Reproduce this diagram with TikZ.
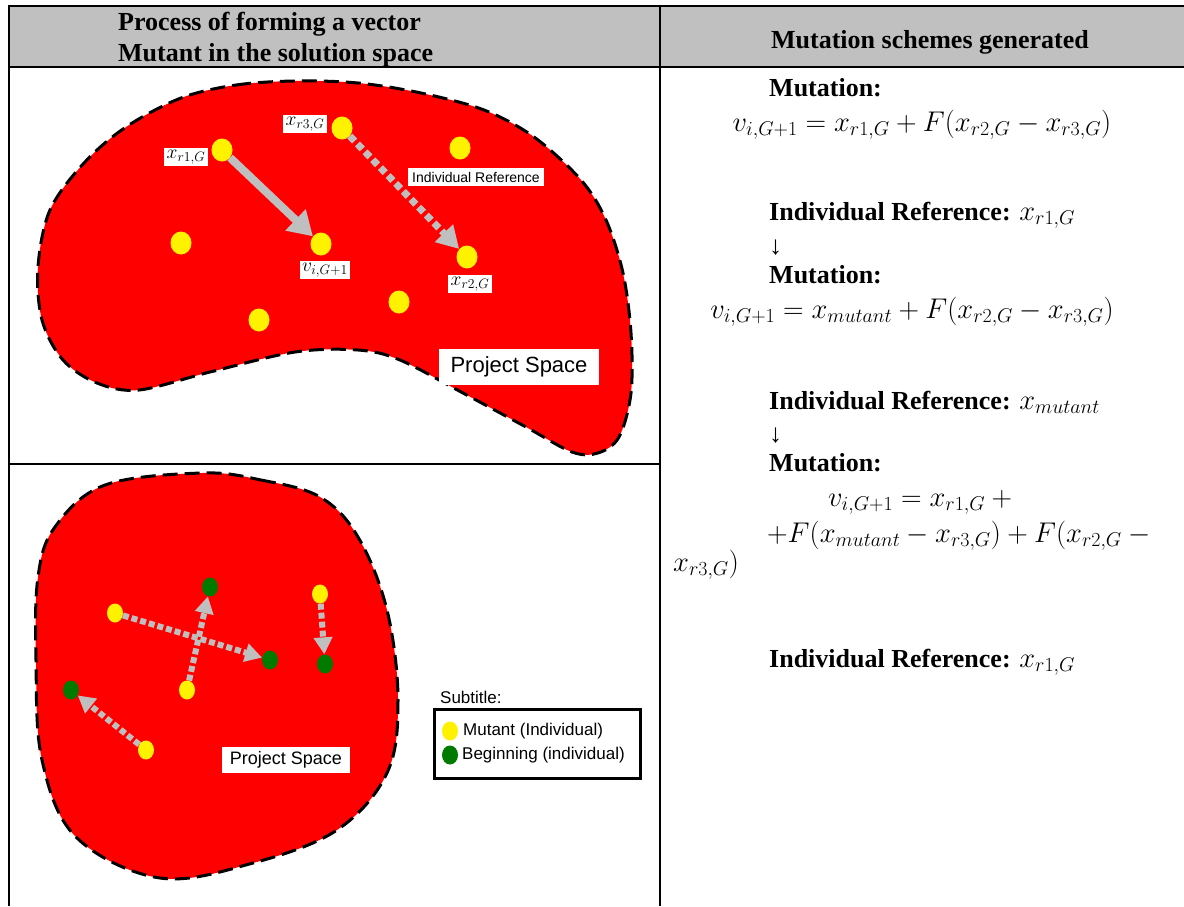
\RequirePackage{fix-cm}
\documentclass[tikz,border=0pt]{standalone}
\usepackage{fontspec}
\setmainfont{Liberation Serif}
\setsansfont{Liberation Sans}
\usetikzlibrary{arrows.meta,shapes.geometric}
\definecolor{hdrgray}{HTML}{C0C0C0}
\definecolor{agray}{HTML}{BFBFBF}
\definecolor{ggreen}{HTML}{007A00}
\tikzset{
  tline/.style={line width=2pt, draw=black},
  blob/.style={fill=red, draw=black, line width=3pt, dash pattern=on 15pt off 7pt},
  hdr/.style={font=\fontsize{26}{31}\selectfont\bfseries, inner sep=0pt, anchor=base west},
  rtxt/.style={font=\fontsize{26}{31}\selectfont\bfseries, anchor=base west, inner sep=0pt},
  rmath/.style={font=\fontsize{28.5}{33}\selectfont, inner sep=0pt},
  lbl/.style={fill=white, inner sep=2.5pt, font=\fontsize{19.5}{22}\selectfont},
  ydot/.style={ellipse, fill=yellow, minimum width=21pt, minimum height=23pt, inner sep=0pt},
  ydots/.style={ellipse, fill=yellow, minimum width=16pt, minimum height=19pt, inner sep=0pt},
  gdots/.style={ellipse, fill=ggreen, minimum width=16pt, minimum height=19pt, inner sep=0pt},
  solidarr/.style={draw=agray, line width=8pt, -{Triangle[length=24pt,width=28pt]}},
  dasharr/.style={draw=agray, line width=7pt, dash pattern=on 7pt off 4pt, -{Triangle[length=22pt,width=24pt]}},
  dasharrs/.style={draw=agray, line width=6pt, dash pattern=on 6pt off 3pt, -{Triangle[length=17pt,width=18pt]}},
  sanslbl/.style={font=\sffamily\fontsize{17}{20}\selectfont, inner sep=0pt}
}
\begin{document}
\begin{tikzpicture}[x=1pt,y=-1pt]
\useasboundingbox (0,0) rectangle (1184,906);
% table
\fill[hdrgray] (9,6) rectangle (1184,67);
\draw[tline] (9,906) -- (9,6) -- (1184,6);
\draw[tline] (9,67) -- (1184,67);
\draw[tline] (660,6) -- (660,906);
\draw[tline] (9,464) -- (660,464);
\node[hdr] (h1) at (118,30) {Process of forming a vector};
\node[hdr] (h2) at (118,61) {Mutant in the solution space};
\node[hdr, anchor=base] (h3) at (930,48) {Mutation schemes generated};

% top blob
\filldraw[blob] plot[smooth cycle, tension=0.55] coordinates {
 (181,98) (236,85) (295,81) (358,83) (421,93) (484,110) (534,137) (581,180)
 (606,220) (623,273) (631,333) (631,393) (619,437) (598,453) (572,452)
 (526,427) (463,393) (400,360) (358,350) (295,352) (210,372) (139,390)
 (97,383) (63,360) (42,320) (38,267) (50,210) (84,163) (126,127)};

\node[ydot] (r1) at (222,150) {};
\node[ydot] (r3) at (342,128) {};
\node[ydot] (d1) at (460,148) {};
\node[ydot] (d2) at (181,243) {};
\node[ydot] (v)  at (321,244) {};
\node[ydot] (r2) at (467,257) {};
\node[ydot] (d3) at (399,302) {};
\node[ydot] (d4) at (259,320) {};

\draw[solidarr] (r1) -- (v);
\draw[dasharr] (r3) -- (r2);

\node[lbl] (lr1) at (186,157) {$x_{r1,G}$};
\node[lbl] (lr3) at (305,124) {$x_{r3,G}$};
\node[lbl] (lv)  at (325,270) {$v_{i,G+1}$};
\node[lbl] (lr2) at (470,284) {$x_{r2,G}$};
\node[fill=white, inner xsep=4pt, inner ysep=4pt, font=\sffamily\fontsize{14}{16}\selectfont] (iref) at (476,177) {Individual Reference};
\node[fill=white, inner xsep=12pt, inner ysep=8pt, font=\sffamily\fontsize{22}{26}\selectfont] (ps1) at (519,367) {Project Space};

% bottom blob
\filldraw[blob] plot[smooth cycle, tension=0.6] coordinates {
 (202,473) (261,480) (320,497) (358,537) (387,610) (398,700) (387,773)
 (337,830) (253,863) (160,878) (76,837) (42,760) (36,660) (38,577) (55,527) (105,485)};

\node[ydots] (y1) at (115,613) {};
\node[gdots] (g1) at (210,587) {};
\node[gdots] (g2) at (270,660) {};
\node[ydots] (y2) at (187,690) {};
\node[ydots] (y3) at (320,594) {};
\node[gdots] (g3) at (325,664) {};
\node[gdots] (g4) at (71,690) {};
\node[ydots] (y4) at (146,750) {};

\draw[dasharrs] (y1) -- (g2);
\draw[dasharrs] (y2) -- (g1);
\draw[dasharrs] (y3) -- (g3);
\draw[dasharrs] (y4) -- (g4);

\node[fill=white, inner xsep=8pt, inner ysep=5pt, font=\sffamily\fontsize{18}{21}\selectfont] (ps2) at (286,760) {Project Space};

% legend
\node[sanslbl, anchor=west] (sub) at (440,697) {Subtitle:};
\node[draw=black, line width=3pt, minimum width=206pt, minimum height=69pt, inner sep=0pt] (leg) at (537,743.5) {};
\node[ydots] (ly) at (450,731) {};
\node[gdots] (lg) at (450,755) {};
\node[sanslbl, anchor=west] (lyt) at (463,731) {Mutant (Individual)};
\node[sanslbl, anchor=west] (lgt) at (462,755) {Beginning (individual)};

% right column
\node[rtxt] (m1) at (769,96) {Mutation:};
\node[rmath, anchor=base] (f1) at (922,131) {$v_{i,G+1}=x_{r1,G}+F(x_{r2,G}-x_{r3,G})$};
\node[rtxt] (ir1) at (769,220) {Individual Reference: \mdseries\fontsize{28.5}{33}\selectfont$x_{r1,G}$};
\node[rtxt, font=\fontsize{26}{31}\selectfont] (a1) at (769,254) {↓};
\node[rtxt] (m2) at (769,283) {Mutation:};
\node[rmath, anchor=base] (f2) at (912,318) {$v_{i,G+1}=x_{mutant}+F(x_{r2,G}-x_{r3,G})$};
\node[rtxt] (ir2) at (769,409) {Individual Reference: \mdseries\fontsize{28.5}{33}\selectfont$x_{mutant}$};
\node[rtxt, font=\fontsize{26}{31}\selectfont] (a2) at (769,442) {↓};
\node[rtxt] (m3) at (769,471) {Mutation:};
\node[rmath, anchor=base west] (f3a) at (828,506) {$v_{i,G+1}=x_{r1,G}+{}$};
\node[rmath, anchor=base west] (f3b) at (767,542) {${+}F\bigl(x_{mutant}-x_{r3,G}\bigr)+F(x_{r2,G}-{}$};
\node[rmath, anchor=base west] (f3c) at (673,571) {$x_{r3,G})$};
\node[rtxt] (ir3) at (769,667) {Individual Reference: \mdseries\fontsize{28.5}{33}\selectfont$x_{r1,G}$};
\end{tikzpicture}
\end{document}
